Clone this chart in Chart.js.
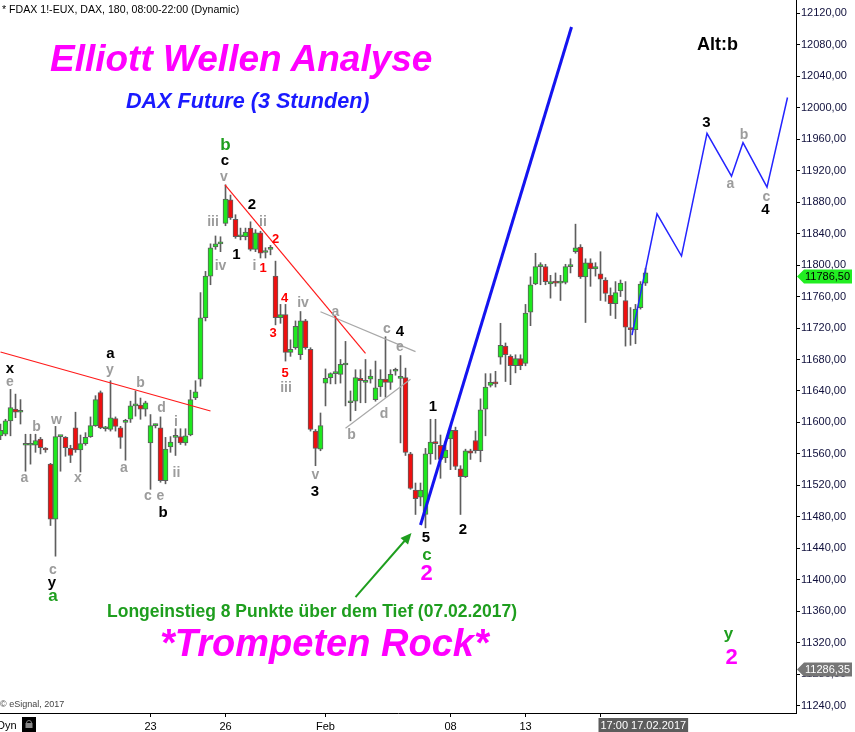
<!DOCTYPE html>
<html><head><meta charset="utf-8">
<script src="https://cdn.jsdelivr.net/npm/chart.js@4.4.1/dist/chart.umd.min.js"></script>
<style>
html,body{margin:0;padding:0;background:#fff;}
#wrap{position:relative;width:855px;height:732px;overflow:hidden;background:#fff;}
#c{position:absolute;left:0;top:0;}
.t{position:absolute;white-space:nowrap;font-family:"Liberation Sans",Arial,sans-serif;line-height:1;}
.bi{font-weight:bold;font-style:italic;}
.b{font-weight:bold;}
</style></head><body>
<div id="wrap">
<canvas id="c" width="855" height="732"></canvas>
<div class="t" style="left:2px;top:4.2px;font-size:10.6px;color:#000">* FDAX 1!-EUX, DAX, 180, 08:00-22:00 (Dynamic)</div>
<div class="t bi" style="left:50px;top:40px;font-size:37px;color:#ff00ff">Elliott Wellen Analyse</div>
<div class="t bi" style="left:126px;top:90px;font-size:21.6px;color:#1a1aff">DAX Future (3 Stunden)</div>
<div class="t b" style="left:697px;top:34.7px;font-size:18px;color:#000">Alt:b</div>
<div class="t b" style="left:107px;top:602.7px;font-size:17.5px;color:#1e9e1e">Longeinstieg 8 Punkte über dem Tief (07.02.2017)</div>
<div class="t bi" style="left:160px;top:624px;font-size:38px;color:#ff00ff">*Trompeten Rock*</div>
<div class="t" style="left:0px;top:700px;font-size:9px;color:#444">© eSignal, 2017</div>
</div>
<script>
// ---- candle data (3h bars, FDAX) ----
const opens  = [11583,11585,11602,11617,11613,11571,11571,11571,11579,11567,11547,11477,11582,11581,11567,11593,11565,11573,11582,11596,11638,11592,11591,11605,11593,11600,11604,11621,11622,11617,11574,11596,11593,11526,11569,11581,11582,11574,11584,11631,11655,11733,11786,11823,11827,11853,11883,11858,11836,11836,11847,11820,11841,11816,11820,11786,11733,11737,11689,11695,11686,11729,11693,11589,11566,11650,11657,11662,11661,11673,11625,11627,11656,11651,11655,11629,11645,11655,11651,11665,11656,11657,11560,11514,11505,11483,11560,11575,11571,11555,11579,11590,11541,11531,11564,11577,11564,11617,11647,11651,11683,11697,11684,11672,11681,11675,11740,11776,11798,11798,11776,11779,11777,11778,11798,11817,11823,11785,11803,11795,11789,11781,11762,11751,11767,11755,11720,11718,11746,11777];
const highs  = [11598,11604,11642,11636,11629,11585,11585,11585,11581,11568,11548,11595,11583,11582,11571,11613,11584,11587,11607,11634,11640,11595,11653,11607,11595,11604,11627,11640,11631,11627,11610,11598,11607,11581,11582,11592,11592,11592,11641,11653,11765,11792,11827,11837,11836,11902,11889,11864,11847,11847,11855,11845,11843,11822,11825,11805,11750,11750,11705,11729,11741,11731,11695,11591,11612,11668,11663,11735,11680,11703,11640,11667,11667,11680,11667,11678,11667,11709,11667,11669,11685,11669,11562,11523,11523,11567,11604,11604,11584,11576,11595,11594,11545,11566,11566,11589,11630,11662,11662,11665,11726,11701,11686,11686,11686,11750,11785,11815,11803,11801,11787,11790,11787,11801,11808,11852,11826,11808,11808,11803,11817,11784,11771,11779,11781,11779,11746,11750,11779,11796];
const lows   = [11578,11583,11583,11606,11598,11538,11547,11562,11560,11562,11469,11430,11538,11557,11549,11562,11537,11571,11581,11595,11592,11589,11589,11589,11567,11552,11600,11608,11604,11608,11515,11593,11524,11522,11562,11558,11572,11571,11583,11629,11646,11729,11775,11820,11817,11850,11858,11834,11832,11832,11818,11817,11809,11809,11813,11724,11726,11678,11684,11693,11680,11693,11589,11545,11564,11621,11649,11649,11650,11621,11602,11615,11625,11625,11650,11627,11633,11632,11642,11660,11574,11558,11515,11483,11494,11466,11547,11553,11529,11549,11540,11540,11483,11530,11553,11561,11550,11583,11645,11645,11674,11652,11648,11663,11667,11672,11723,11775,11775,11775,11758,11773,11755,11776,11790,11815,11783,11727,11773,11786,11755,11754,11736,11732,11760,11697,11698,11700,11744,11774];
const closes = [11590,11602,11619,11613,11614,11572,11572,11577,11568,11565,11477,11582,11583,11568,11558,11565,11573,11581,11596,11629,11593,11593,11606,11595,11581,11601,11621,11622,11617,11625,11596,11597,11526,11566,11575,11582,11574,11583,11629,11639,11733,11786,11822,11827,11828,11884,11860,11836,11837,11842,11820,11841,11815,11817,11821,11733,11737,11689,11693,11722,11729,11695,11591,11567,11596,11656,11662,11663,11674,11674,11626,11657,11653,11652,11659,11644,11655,11651,11661,11666,11657,11562,11516,11503,11514,11560,11575,11573,11553,11565,11590,11544,11531,11564,11561,11564,11616,11645,11651,11649,11698,11686,11672,11681,11672,11739,11775,11798,11799,11779,11779,11777,11778,11798,11799,11822,11785,11803,11795,11798,11782,11764,11751,11765,11777,11721,11718,11744,11776,11790];

// ---- axis ticks ----
const yTickValues = [11240,11280,11320,11360,11400,11440,11480,11520,11560,11600,11640,11680,11720,11760,11800,11840,11880,11920,11960,12000,12040,12080,12120];
const xTickIdx  = [30, 45, 65, 90, 105, 120];
const xTickText = ['23', '26', 'Feb', '08', '13', ''];
const cursorIdx = 120;
const cursorText = '17:00 17.02.2017';
const lastPrice = 11786.5;
const refPrice = 11286.35;

// ---- drawn lines (bar index, price) ----
const redTrendLeft  = [[0, 11689.5], [42, 11614.5]];
const redTrendRight = [[44.9, 11901.8], [73, 11687.9]];
const grayUpper     = [[64, 11740.7], [83, 11690]];
const grayLower     = [[69, 11592.5], [82, 11655]];
const blueChannel   = [[84, 11469.6], [114.2, 12102.6]];
const projX = [126.3, 131.3, 136.2, 141.3, 146.2, 148.5, 153.3, 157.4];
const projY = [11711, 11865, 11811.5, 11967.5, 11913, 11955.5, 11899, 12013];
const arrowTail = [71, 11378];
const arrowHead = [82.2, 11459.5];

// ---- wave labels ----
const waveText  = ['x','a','b','y','c','2','1','4','3','1','5','2','3','4',
  'e','b','a','w','x','y','b','a','d','i','ii','c','e','c',
  'v','iii','ii','iv','i','iv','iii','a','c','e','b','d','v',
  'a','b','c',
  '2','1','4','3','5',
  'b','a','c','y',
  '2','2'];
const waveX = [1.86,22,32.5,10.3,44.9,50.3,47.2,79.9,62.9,86.5,85.1,92.5,141.2,153,
  1.86,7.2,4.8,11.2,15.5,21.9,28,24.7,32.2,35.1,35.2,29.5,32,10.5,
  44.7,42.5,52.5,44,50.8,60.5,57.1,67,77.3,79.9,70.2,76.7,63,
  146,148.7,153.2,
  55,52.5,56.8,54.5,56.9,
  45,10.5,85.3,145.6,
  85.2,146.2];
const waveY = [11667.9,11687,11484.5,11396.3,11932.7,11876.3,11812.8,11715.3,11511.9,11620,11452.7,11463.3,11981,11870,
  11651.8,11594.2,11529.4,11603.1,11529.4,11666.9,11650.5,11541.7,11617.9,11600.9,11535.7,11506.5,11506.5,11412.4,
  11911.6,11855.1,11855.1,11798.8,11798.8,11751.4,11643.4,11740.7,11718.4,11695.5,11584,11610.7,11533.2,
  11903,11965.3,11886.9,
  11832.8,11795.9,11757.8,11713.3,11662.4,
  11952.6,11378.5,11431.5,11331.1,
  11407.3,11300.6];
const waveStyle = ['k','k','k','k','k','k','k','k','k','k','k','k','k','k',
  'g','g','g','g','g','g','g','g','g','g','g','g','g','g',
  'g','g','g','g','g','g','g','g','g','g','g','g','g',
  'g','g','g',
  'r','r','r','r','r',
  'G','G','G','G',
  'm','m'];
const styles = {
  k: {color:'#000000', size:15},
  g: {color:'#9c9c9c', size:14},
  r: {color:'#ff0000', size:13},
  G: {color:'#1e9e1e', size:17},
  m: {color:'#ff00ff', size:22}
};

const FONT = '"Liberation Sans", Arial, sans-serif';
const UP = '#1ee81e', DOWN = '#ee1010', EDGE = '#5e5e5e';

const idx = opens.map((_, i) => i);
const wickData = idx.map(i => ({x: i, y: [lows[i], highs[i]]}));
const bodyData = idx.map(i => ({x: i, y: [opens[i], closes[i]]}));
const bodyColors = idx.map(i => closes[i] >= opens[i] ? UP : DOWN);

function lineSet(pts, color, width) {
  return {type: 'line', data: pts.map(p => ({x: p[0], y: p[1]})), borderColor: color,
    borderWidth: width, pointRadius: 0, fill: false, tension: 0, order: 0};
}

const overlay = {
  id: 'overlay',
  afterDatasetsDraw(chart) {
    const {ctx, scales: {x, y}} = chart;
    ctx.save();
    // arrow
    const tx = x.getPixelForValue(arrowTail[0]), ty = y.getPixelForValue(arrowTail[1]);
    const hx = x.getPixelForValue(arrowHead[0]), hy = y.getPixelForValue(arrowHead[1]);
    const ang = Math.atan2(hy - ty, hx - tx);
    ctx.strokeStyle = '#1e9e1e'; ctx.fillStyle = '#1e9e1e'; ctx.lineWidth = 2;
    ctx.beginPath(); ctx.moveTo(tx, ty);
    ctx.lineTo(hx - 8 * Math.cos(ang), hy - 8 * Math.sin(ang)); ctx.stroke();
    ctx.beginPath(); ctx.moveTo(hx, hy);
    ctx.lineTo(hx - 11 * Math.cos(ang) + 5 * Math.sin(ang), hy - 11 * Math.sin(ang) - 5 * Math.cos(ang));
    ctx.lineTo(hx - 11 * Math.cos(ang) - 5 * Math.sin(ang), hy - 11 * Math.sin(ang) + 5 * Math.cos(ang));
    ctx.closePath(); ctx.fill();
    // wave labels
    ctx.textAlign = 'center'; ctx.textBaseline = 'middle';
    waveText.forEach((t, k) => {
      const st = styles[waveStyle[k]];
      ctx.font = 'bold ' + st.size + 'px ' + FONT;
      ctx.fillStyle = st.color;
      ctx.fillText(t, x.getPixelForValue(waveX[k]), y.getPixelForValue(waveY[k]));
    });
    ctx.restore();
  },
  afterDraw(chart) {
    const {ctx, scales: {x, y}, chartArea} = chart;
    ctx.save();
    const R = chartArea.right;
    function marker(val, fill, txtColor) {
      const yy = Math.round(y.getPixelForValue(val)) + 0.5;
      ctx.fillStyle = fill;
      ctx.beginPath();
      ctx.moveTo(R + 1, yy); ctx.lineTo(R + 8, yy - 7); ctx.lineTo(852, yy - 7);
      ctx.lineTo(852, yy + 7); ctx.lineTo(R + 8, yy + 7); ctx.closePath(); ctx.fill();
      ctx.fillStyle = txtColor; ctx.font = '11px ' + FONT;
      ctx.textAlign = 'left'; ctx.textBaseline = 'middle';
      ctx.fillText(val.toFixed(2).replace('.', ','), R + 9, yy + 0.5);
    }
    marker(lastPrice, '#22ee22', '#000');
    marker(refPrice, '#767676', '#fff');
    // cursor date box
    const cx = x.getPixelForValue(cursorIdx);
    ctx.font = '11px ' + FONT;
    const w = ctx.measureText(cursorText).width + 4;
    ctx.fillStyle = '#5c5c5c';
    ctx.fillRect(cx - 2, chartArea.bottom + 5, w, 14);
    ctx.fillStyle = '#fff'; ctx.textAlign = 'left'; ctx.textBaseline = 'middle';
    ctx.fillText(cursorText, cx, chartArea.bottom + 12.5);
    // Dyn + lock icon
    ctx.fillStyle = '#000';
    ctx.fillText('Dyn', -3, chartArea.bottom + 12.5);
    ctx.fillRect(22, chartArea.bottom + 4, 14, 15);
    ctx.strokeStyle = '#888'; ctx.lineWidth = 1;
    ctx.beginPath(); ctx.arc(29, chartArea.bottom + 10, 2.5, Math.PI, 0); ctx.stroke();
    ctx.fillStyle = '#888'; ctx.fillRect(25.5, chartArea.bottom + 10, 7, 5);
    ctx.restore();
  }
};

new Chart(document.getElementById('c'), {
  type: 'bar',
  data: {
    datasets: [
      lineSet(blueChannel, '#1414f0', 3),
      lineSet(projX.map((v, i) => [v, projY[i]]), '#2424ff', 1.5),
      lineSet(redTrendLeft, '#ff1a1a', 1.2),
      lineSet(redTrendRight, '#ff1a1a', 1.2),
      lineSet(grayUpper, '#a8a8a8', 1.2),
      lineSet(grayLower, '#a8a8a8', 1.2),
      {type: 'bar', data: bodyData, backgroundColor: bodyColors, borderColor: EDGE, borderWidth: 1,
        borderSkipped: false, barThickness: 5, grouped: false, minBarLength: 2, order: 1},
      {type: 'bar', data: wickData, backgroundColor: '#5e5e5e', borderWidth: 0,
        barThickness: 1, grouped: false, order: 2}
    ]
  },
  options: {
    responsive: false, animation: false, events: [],
    layout: {padding: 0, autoPadding: false},
    plugins: {legend: {display: false}, tooltip: {enabled: false}, title: {display: false}},
    scales: {
      x: {
        type: 'linear', min: -0.1, max: 159.1, offset: false, position: 'bottom',
        grid: {offset: false, drawOnChartArea: false, drawTicks: true, tickLength: 4, tickColor: '#000', tickWidth: 1},
        border: {display: true, color: '#000', width: 1},
        ticks: {autoSkip: false, maxRotation: 0, padding: 3, color: '#000', font: {family: FONT, size: 11},
          callback: v => { const k = xTickIdx.indexOf(v); return k < 0 ? '' : xTickText[k]; }},
        afterBuildTicks: s => { s.ticks = xTickIdx.map(v => ({value: v})); },
        afterFit: s => { s.height = 19; s.paddingLeft = 0; s.paddingRight = 0; }
      },
      y: {
        type: 'linear', position: 'right', min: 11230.7, max: 12136.9,
        grid: {offset: false, drawOnChartArea: false, drawTicks: true, tickLength: 4, tickColor: '#000', tickWidth: 1},
        border: {display: true, color: '#000', width: 1},
        ticks: {padding: 1, color: '#10103c', font: {family: FONT, size: 11},
          callback: v => v.toFixed(2).replace('.', ',')},
        afterBuildTicks: s => { s.ticks = yTickValues.map(v => ({value: v})); },
        afterFit: s => { s.width = 59; s.paddingTop = 0; s.paddingBottom = 0; }
      }
    }
  },
  plugins: [overlay]
});
</script>
</body></html>
